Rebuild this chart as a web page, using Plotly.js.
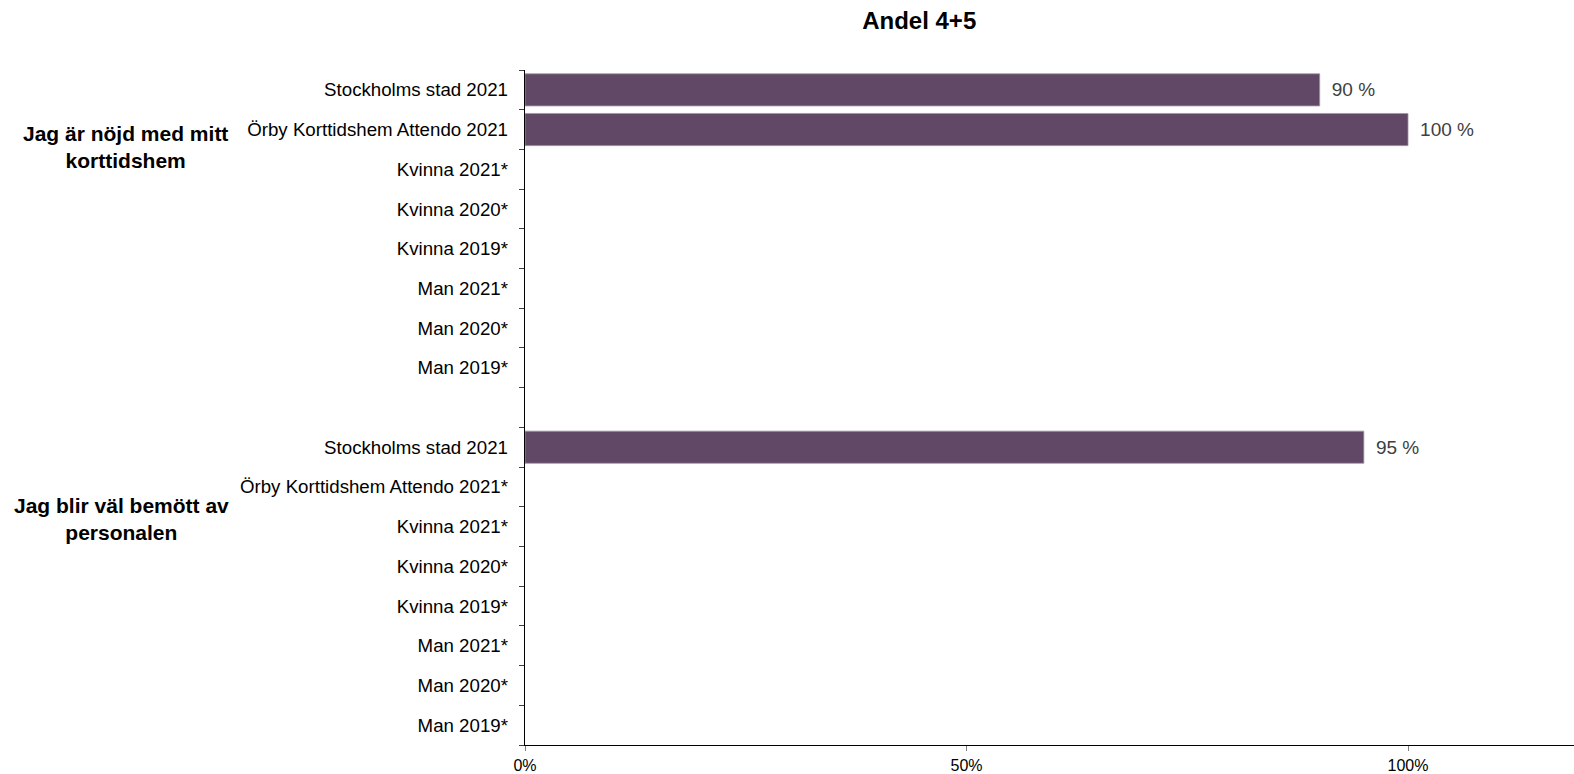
<!DOCTYPE html>
<html>
<head>
<meta charset="utf-8">
<script src="https://cdn.plot.ly/plotly-3.0.1.min.js"></script>
<style>html,body{margin:0;padding:0;background:#fff;overflow:hidden;}</style>
</head>
<body>
<div id="chart" style="width:1574px;height:774px;"></div>
<script>
// Row labels, top to bottom ("" = empty spacer row)
var rowLabels = [
  "Stockholms stad 2021",
  "Örby Korttidshem Attendo 2021",
  "Kvinna 2021*",
  "Kvinna 2020*",
  "Kvinna 2019*",
  "Man 2021*",
  "Man 2020*",
  "Man 2019*",
  "",
  "Stockholms stad 2021",
  "Örby Korttidshem Attendo 2021*",
  "Kvinna 2021*",
  "Kvinna 2020*",
  "Kvinna 2019*",
  "Man 2021*",
  "Man 2020*",
  "Man 2019*"
];
// Share answering 4+5 (null = no bar)
var shareValues = [0.90, 1.00, null, null, null, null, null, null, null,
                   0.95, null, null, null, null, null, null, null];
var groupLabels = ["Jag är nöjd med mitt<br>korttidshem", "Jag blir väl bemött av<br>personalen"];
var xTickVals = [0, 0.5, 1];
var xTickText = ["0%", "50%", "100%"];

var rowIdx = rowLabels.map(function(_, i){ return i; });
var tickVals = [], tickText = [];
rowLabels.forEach(function(l, i){ if (l !== "") { tickVals.push(i); tickText.push(l); } });
var barText = shareValues.map(function(v){ return v === null ? "" : "\u00a0\u2009" + Math.round(v*100) + " %"; });

var FONT = "Liberation Sans, Arial, Helvetica, sans-serif";

var trace = {
  type: "bar", orientation: "h", y: rowIdx, x: shareValues, text: barText,
  textposition: "outside", cliponaxis: false,
  textfont: {family: FONT, size: 19, color: "#404040"},
  marker: {color: "#614866", line: {color: "#a595a8", width: 0.8}},
  hoverinfo: "skip"
};

var layout = {
  width: 1574, height: 774, margin: {l: 525, r: 0, t: 70, b: 29},
  paper_bgcolor: "#ffffff", plot_bgcolor: "#ffffff", showlegend: false, bargap: 0.19,
  font: {family: FONT, color: "#000000"},
  title: {text: "<b>Andel 4+5</b>", font: {family: FONT, size: 24, color: "#000000"},
    x: 0.584, xref: "container", xanchor: "center", y: 0.974, yref: "container", yanchor: "middle"},
  xaxis: {range: [0, 1.188], tickmode: "array", tickvals: xTickVals, ticktext: xTickText,
    ticks: "outside", ticklen: 5, tickcolor: "#808080", tickwidth: 1,
    tickfont: {family: FONT, size: 16, color: "#000000"}, showgrid: false, zeroline: false,
    showline: true, linecolor: "#000000", linewidth: 1.3, fixedrange: true},
  yaxis: {range: [16.5, -0.5], tickmode: "array", tickvals: tickVals, ticktext: tickText,
    ticks: "", ticklabelstandoff: 12, tickfont: {family: FONT, size: 18.7, color: "#000000"},
    minor: {tickmode: "linear", tick0: 0.5, dtick: 1, ticks: "outside", ticklen: 5, tickcolor: "#404040", tickwidth: 1, showgrid: false},
    showgrid: false, zeroline: false, showline: true, linecolor: "#000000", linewidth: 1.3, fixedrange: true},
  annotations: [
    {text: "<b>" + groupLabels[0] + "</b>", xref: "paper", yref: "y", x: -0.3813, y: 1.45,
     xanchor: "center", yanchor: "middle", align: "center", showarrow: false, font: {family: FONT, size: 21, color: "#000000"}},
    {text: "<b>" + groupLabels[1] + "</b>", xref: "paper", yref: "y", x: -0.385, y: 10.8,
     xanchor: "center", yanchor: "middle", align: "center", showarrow: false, font: {family: FONT, size: 21, color: "#000000"}}
  ]
};

Plotly.newPlot("chart", [trace], layout, {displayModeBar: false, staticPlot: true});
</script>
</body>
</html>
